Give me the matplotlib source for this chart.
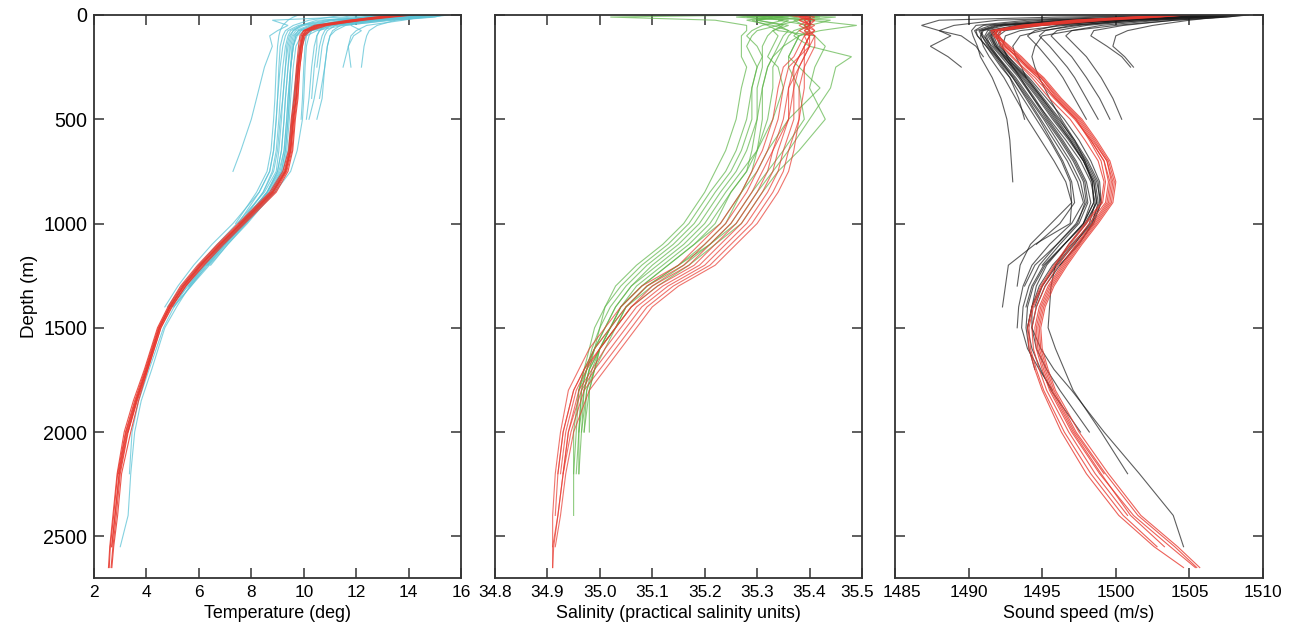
import matplotlib

matplotlib.use("Agg")
import matplotlib.pyplot as plt
import matplotlib.transforms as mtransforms

plt.rcParams["font.family"] = ["Liberation Sans", "DejaVu Sans"]

# ---- temperature panel -------------------------------------------------
temp_depth = [0, 10, 25, 50, 75, 100, 150, 250, 400, 500, 650, 750, 850, 1000,
              1100, 1200, 1300, 1400, 1500, 1700, 1850, 2000, 2200, 2400, 2550, 2650]

temp_red = [
    [14.2, 13.4, 12.3, 10.8, 10.2, 10.0, 9.95, 9.85, 9.75, 9.65, 9.55, 9.35, 8.9, 7.7, 6.9, 6.15, 5.5, 4.95, 4.55, 4.05, 3.65, 3.3, 3.0, 2.85, 2.72, 2.65],
    [13.6, 12.8, 11.7, 10.4, 10.0, 9.9, 9.85, 9.75, 9.65, 9.55, 9.45, 9.25, 8.75, 7.55, 6.75, 6.0, 5.35, 4.85, 4.45, 3.95, 3.55, 3.2, 2.9, 2.75, 2.62, 2.58],
    [14.0, 13.1, 12.1, 10.7, 10.15, 10.0, 9.9, 9.8, 9.7, 9.62, 9.5, 9.32, 8.85, 7.65, 6.85, 6.1, 5.45, 4.9, 4.5, 4.0, 3.62, 3.28, 2.97, 2.8, 2.68],
    [13.8, 12.9, 11.9, 10.5, 10.05, 9.95, 9.9, 9.8, 9.72, 9.6, 9.5, 9.3, 8.8, 7.6, 6.8, 6.05, 5.4, 4.88, 4.48, 3.98, 3.58, 3.22, 2.93],
    [14.1, 13.2, 12.2, 10.9, 10.25, 10.05, 9.95, 9.85, 9.78, 9.68, 9.58, 9.4, 8.95, 7.75, 6.95, 6.2, 5.5, 4.98, 4.55, 4.05, 3.7, 3.4, 3.05, 2.9, 2.75, 2.68],
    [13.7, 12.7, 11.8, 10.5, 10.0, 9.85, 9.8, 9.72, 9.62, 9.52, 9.42, 9.2, 8.7, 7.5, 6.7, 5.95, 5.3, 4.82, 4.42, 3.92, 3.5, 3.15, 2.88, 2.72, 2.6, 2.55],
    [13.9, 13.0, 12.0, 10.6, 10.1, 9.95, 9.88, 9.78, 9.7, 9.58, 9.48, 9.28, 8.8, 7.6, 6.8, 6.05, 5.4, 4.9, 4.5, 4.0, 3.6, 3.25, 2.95, 2.8, 2.67],
    [14.0, 13.1, 12.1, 10.6, 10.1, 9.95, 9.9, 9.8, 9.7, 9.6, 9.5, 9.3, 8.82, 7.62, 6.82, 6.08, 5.42, 4.9, 4.5, 4.02, 3.62, 3.3],
]

temp_cyan = [
    [15.3, 15.0, 13.5, 12.8, 12.5, 12.4, 12.3, 12.2],
    [14.8, 14.5, 13.8, 12.4, 12.0, 11.8, 11.7, 11.5],
    [15.5, 14.9, 13.2, 11.6, 11.2, 11.0, 10.9, 10.8, 10.6],
    [15.0, 14.2, 12.9, 11.4, 11.1, 11.0, 10.9, 10.8, 10.7, 10.5],
    [14.5, 13.8, 12.6, 11.0, 10.6, 10.5, 10.4, 10.3, 10.2, 10.1],
    [13.5, 12.8, 11.5, 10.8, 10.6, 10.5, 10.5, 10.4, 10.3],
    [12.0, 11.5, 8.8, 9.4, 9.0, 8.7, 8.8, 8.5, 8.2, 8.0, 7.6, 7.3],
    [15.2, 14.6, 13.0, 11.2, 10.3, 9.9, 9.7, 9.6, 9.5, 9.45, 9.35, 9.2, 8.75, 7.7, 6.95, 6.3, 5.7, 5.0],
    [14.6, 14.0, 12.4, 10.8, 10.0, 9.75, 9.6, 9.5, 9.4, 9.35, 9.25, 9.1, 8.6, 7.6, 6.85, 6.2, 5.6],
    [13.2, 12.5, 11.2, 10.0, 9.6, 9.45, 9.35, 9.3, 9.2, 9.15, 9.05, 8.95, 8.5, 7.45, 6.7, 6.0, 5.35, 4.8],
    [14.0, 13.4, 12.0, 10.5, 9.9, 9.7, 9.6, 9.5, 9.45, 9.4, 9.3, 9.15, 8.7, 7.75, 7.0, 6.3],
    [12.5, 11.8, 10.8, 9.8, 9.4, 9.3, 9.2, 9.1, 9.0, 8.95, 8.85, 8.7, 8.3, 7.3, 6.5, 5.8, 5.2, 4.7],
    [15.4, 14.7, 13.4, 11.5, 10.5, 10.1, 9.9, 9.75, 9.6, 9.55, 9.45, 9.3, 8.8, 7.75, 7.0],
    [11.5, 11.0, 10.2, 9.6, 9.3, 9.2, 9.1, 9.05, 9.0, 8.95, 8.85, 8.7, 8.3, 7.5],
    [14.3, 13.7, 12.2, 10.4, 9.8, 9.6, 9.5, 9.4, 9.3, 9.25, 9.15, 9.0, 8.6, 7.6, 6.85, 6.1, 5.5, 4.95],
    [13.0, 12.4, 11.0, 9.9, 9.5, 9.4, 9.3, 9.2, 9.1, 9.05, 8.95, 8.8, 8.45, 7.6, 6.9, 6.25, 5.65, 5.15, 4.7, 4.2, 3.8, 3.55, 3.4, 3.3, 3.0],
    [14.1, 13.5, 12.0, 10.3, 9.8, 9.65, 9.55, 9.5, 9.45, 9.4, 9.3, 9.15, 8.65, 7.7, 6.9, 6.2, 5.55, 5.05, 4.65, 4.1, 3.7, 3.45, 3.35],
    [15.0, 14.3, 12.7, 11.0, 10.3, 10.0, 9.85, 9.75, 9.65, 9.55, 9.45, 9.3, 8.85, 7.85, 7.1, 6.4, 5.7, 5.05],
    [13.6, 13.0, 11.6, 10.2, 9.7, 9.55, 9.45, 9.4, 9.3, 9.25, 9.15, 9.0, 8.6, 7.7, 7.0, 6.35, 5.65],
    [12.8, 12.3, 11.5, 11.0, 10.8, 10.7, 10.6, 10.5],
    [9.8, 9.6, 9.4, 9.2, 9.1, 9.05, 9.0, 8.95, 8.9, 8.85, 8.75, 8.6, 8.2, 7.4],
    [14.9, 14.2, 12.0, 11.8, 12.2, 11.9, 11.7, 11.8],
    [14.4, 13.9, 12.8, 10.9, 10.2, 10.0, 9.85, 9.75, 9.65, 9.55, 9.4, 9.2, 8.75, 7.8, 7.1, 6.45],
    [13.0, 12.2, 11.0, 10.4, 10.2, 10.1, 10.05, 10.0, 9.95, 9.9],
    [15.1, 14.0, 12.5, 10.6, 9.9, 9.7, 9.6, 9.5, 9.4, 9.35, 9.25, 9.05, 8.6, 7.65, 6.95, 6.25, 5.6, 4.9],
    [14.7, 13.6, 10.5, 9.9, 9.6, 9.5, 9.4, 9.3, 9.2, 9.1, 9.0, 8.85, 8.45, 7.55],
    [13.3, 12.6, 11.4, 10.6, 10.3, 10.2, 10.1, 10.05, 10.0, 9.95, 9.75, 9.5, 8.9, 7.8, 7.05, 6.35],
    [14.2, 13.3, 12.2, 11.2, 10.9, 10.8, 10.7, 10.6, 10.4, 10.2],
]

# ---- salinity panel ----------------------------------------------------
sal_depth = [0, 10, 25, 50, 75, 100, 150, 200, 250, 350, 500, 650, 750, 850, 1000,
             1100, 1200, 1300, 1400, 1500, 1600, 1700, 1800, 2000, 2200, 2400, 2550, 2650]

sal_red = [
    [35.37, 35.39, 35.38, 35.41, 35.39, 35.41, 35.40, 35.39, 35.39, 35.38, 35.38, 35.36, 35.35, 35.33, 35.29, 35.25, 35.21, 35.14, 35.09, 35.06, 35.03, 35.00, 34.97, 34.945, 34.93, 34.92, 34.91, 34.91],
    [35.39, 35.38, 35.40, 35.39, 35.41, 35.39, 35.40, 35.38, 35.37, 35.36, 35.35, 35.33, 35.32, 35.30, 35.26, 35.22, 35.18, 35.11, 35.06, 35.03, 35.00, 34.975, 34.955, 34.935, 34.925],
    [35.38, 35.40, 35.39, 35.40, 35.38, 35.40, 35.39, 35.38, 35.36, 35.35, 35.34, 35.32, 35.30, 35.28, 35.24, 35.20, 35.16, 35.09, 35.05, 35.02, 34.99, 34.97, 34.95, 34.93, 34.92],
    [35.36, 35.38, 35.41, 35.39, 35.40, 35.41, 35.41, 35.40, 35.39, 35.39, 35.38, 35.37, 35.36, 35.34, 35.30, 35.26, 35.22, 35.15, 35.10, 35.07, 35.04, 35.01, 34.98, 34.95, 34.935, 34.925, 34.915],
    [35.39, 35.41, 35.39, 35.40, 35.40, 35.39, 35.38, 35.37, 35.35, 35.34, 35.33, 35.31, 35.29, 35.27, 35.23, 35.19, 35.15, 35.08, 35.04, 35.01, 34.98, 34.96, 34.94, 34.925, 34.915, 34.91, 34.91],
    [35.40, 35.39, 35.41, 35.40, 35.39, 35.40, 35.40, 35.39, 35.38, 35.37, 35.37, 35.35, 35.34, 35.32, 35.28, 35.24, 35.20, 35.13, 35.08, 35.05, 35.02, 34.99, 34.965, 34.94, 34.93, 34.92, 34.912, 34.91],
    [35.37, 35.40, 35.38, 35.40, 35.41, 35.40, 35.39, 35.39, 35.38, 35.36, 35.36, 35.34, 35.33, 35.31, 35.27, 35.23, 35.19, 35.12, 35.07, 35.04, 35.01, 34.985, 34.96, 34.94, 34.93],
    [35.38, 35.39, 35.40, 35.38, 35.40, 35.40, 35.39, 35.38, 35.37, 35.37, 35.36, 35.33, 35.31, 35.29, 35.25, 35.21, 35.17, 35.10, 35.06, 35.03, 35.00, 34.97, 34.95, 34.93, 34.92, 34.915],
]

sal_green = [
    [35.30, 35.02, 35.22, 35.28, 35.28, 35.27, 35.27, 35.27, 35.28, 35.27, 35.26, 35.24, 35.22, 35.20, 35.16, 35.12, 35.07, 35.03, 35.01, 34.99, 34.98, 34.97, 34.96, 34.955, 34.95, 34.95],
    [35.32, 35.26, 35.36, 35.34, 35.30, 35.29, 35.28, 35.29, 35.30, 35.29, 35.28, 35.26, 35.24, 35.21, 35.17, 35.13, 35.08, 35.04, 35.01, 35.00, 34.985, 34.975, 34.965, 34.96, 34.96],
    [35.28, 35.35, 35.30, 35.36, 35.33, 35.32, 35.31, 35.31, 35.31, 35.30, 35.30, 35.28, 35.26, 35.23, 35.19, 35.15, 35.10, 35.06, 35.03, 35.01, 34.99, 34.98, 34.97, 34.965],
    [35.35, 35.30, 35.40, 35.49, 35.42, 35.38, 35.35, 35.34, 35.33, 35.33, 35.32, 35.30, 35.28, 35.25, 35.21, 35.17, 35.12, 35.07, 35.04, 35.02, 35.00, 34.985, 34.975, 34.97],
    [35.33, 35.38, 35.34, 35.40, 35.38, 35.37, 35.40, 35.48, 35.45, 35.44, 35.40, 35.36, 35.33, 35.30, 35.26, 35.21, 35.16, 35.10, 35.05, 35.03, 35.00, 34.98, 34.97, 34.96],
    [35.25, 35.32, 35.28, 35.33, 35.36, 35.38, 35.37, 35.36, 35.38, 35.42, 35.36, 35.32, 35.30, 35.27, 35.23, 35.18, 35.13, 35.08, 35.04, 35.02, 35.00, 34.98, 34.97],
    [35.30, 35.45, 35.38, 35.34, 35.36, 35.35, 35.34, 35.33, 35.32, 35.31, 35.31, 35.30, 35.29, 35.27, 35.24, 35.20, 35.15, 35.09, 35.05, 35.03, 35.00, 34.99, 34.98, 34.98],
    [35.34, 35.28, 35.35, 35.31, 35.29, 35.28, 35.30, 35.31, 35.30, 35.29, 35.29, 35.27, 35.25, 35.22, 35.18, 35.14, 35.09, 35.05, 35.02, 35.00, 34.99, 34.975, 34.965, 34.96, 34.955],
    [35.36, 35.42, 35.37, 35.39, 35.40, 35.38, 35.37, 35.36, 35.36, 35.38, 35.39, 35.35, 35.32, 35.29, 35.25, 35.21, 35.15, 35.09, 35.05, 35.02, 34.99, 34.975, 34.96, 34.95, 34.95],
    [35.29, 35.33, 35.30, 35.35, 35.33, 35.34, 35.33, 35.32, 35.34, 35.35, 35.33, 35.30, 35.27, 35.24, 35.20, 35.16, 35.11, 35.06, 35.03, 35.01, 34.99, 34.97, 34.96],
    [35.38, 35.32, 35.44, 35.40, 35.37, 35.36, 35.35, 35.33, 35.32, 35.31, 35.30, 35.29, 35.28, 35.25, 35.22, 35.18, 35.13, 35.08, 35.04, 35.02, 35.00, 34.99, 34.98, 34.97],
    [35.31, 35.36, 35.29, 35.32, 35.34, 35.41, 35.43, 35.42, 35.41, 35.40, 35.43, 35.38, 35.34, 35.31, 35.27, 35.22, 35.17, 35.11, 35.06, 35.03, 35.01, 34.99, 34.975, 34.965, 34.96],
]

# ---- sound speed panel -------------------------------------------------
ss_depth = [0, 10, 25, 50, 75, 100, 150, 200, 250, 300, 400, 500, 600, 700, 800, 900,
            1000, 1100, 1200, 1300, 1400, 1500, 1600, 1700, 1800, 2000, 2200, 2400, 2550, 2650]

ss_red = [
    [1504.8, 1503.0, 1499.5, 1495.0, 1492.0, 1491.8, 1492.3, 1493.0, 1493.7, 1494.5, 1495.8, 1497.2, 1498.3, 1499.2, 1499.6, 1499.4, 1498.4, 1497.3, 1496.3, 1495.4, 1494.8, 1494.5, 1494.6, 1495.0, 1495.5, 1497.0, 1498.9, 1501.2, 1503.7, 1505.4],
    [1504.2, 1501.5, 1497.5, 1493.8, 1491.6, 1492.0, 1492.8, 1493.6, 1494.3, 1495.1, 1496.3, 1497.7, 1498.7, 1499.6, 1500.0, 1499.8, 1498.8, 1497.7, 1496.7, 1495.8, 1495.2, 1494.9, 1495.0, 1495.4, 1495.9, 1497.5, 1499.5, 1501.7, 1504.2, 1505.7],
    [1505.0, 1502.5, 1498.5, 1494.5, 1492.2, 1492.1, 1492.5, 1493.2, 1493.9, 1494.7, 1495.9, 1497.3, 1498.2, 1499.0, 1499.3, 1499.1, 1498.0, 1496.9, 1495.9, 1495.0, 1494.4, 1494.1, 1494.2, 1494.6, 1495.1, 1496.5, 1498.3, 1500.5, 1502.8],
    [1503.8, 1501.0, 1497.0, 1493.5, 1491.5, 1491.7, 1492.4, 1493.3, 1494.1, 1494.9, 1496.1, 1497.5, 1498.5, 1499.4, 1499.8, 1499.6, 1498.6, 1497.5, 1496.5, 1495.6, 1495.0, 1494.7, 1494.8, 1495.2, 1495.7, 1497.2, 1499.2],
    [1504.5, 1502.2, 1498.2, 1494.2, 1491.9, 1491.9, 1492.6, 1493.5, 1494.2, 1495.0, 1496.2, 1497.6, 1498.6, 1499.5, 1499.9, 1499.7, 1498.7, 1497.6, 1496.6, 1495.7, 1495.1, 1494.8, 1494.9, 1495.3, 1495.8, 1497.3, 1499.3, 1501.5, 1504.0, 1505.5],
    [1504.0, 1501.8, 1498.0, 1494.0, 1491.7, 1491.8, 1492.2, 1492.9, 1493.6, 1494.3, 1495.5, 1496.9, 1497.9, 1498.8, 1499.2, 1499.0, 1497.9, 1496.8, 1495.8, 1494.9, 1494.3, 1494.0, 1494.1, 1494.5, 1495.0, 1496.3, 1498.0, 1500.2, 1502.6, 1504.6],
    [1504.6, 1502.8, 1499.0, 1494.8, 1492.1, 1492.0, 1492.7, 1493.4, 1494.0, 1494.9, 1496.0, 1497.4, 1498.4, 1499.4, 1499.7, 1499.5, 1498.5, 1497.4, 1496.4, 1495.5, 1494.9, 1494.6, 1494.7, 1495.1, 1495.6, 1497.1, 1499.0, 1501.0, 1503.3],
    [1504.3, 1501.2, 1497.2, 1493.6, 1491.8, 1491.9, 1492.5, 1493.3, 1494.0, 1494.7, 1495.9, 1497.3, 1498.3, 1499.2, 1499.5, 1499.3, 1498.2, 1497.1, 1496.1, 1495.2, 1494.6, 1494.3, 1494.4, 1494.8, 1495.3, 1496.8, 1498.6, 1500.8],
]

ss_black = [
    [1506.0, 1496.0, 1488.0, 1486.8, 1488.0, 1488.8, 1487.4, 1488.6, 1489.5],
    [1508.0, 1506.5, 1503.0, 1499.0, 1497.0, 1496.6, 1497.3, 1498.0, 1498.5, 1499.0, 1499.8, 1500.4],
    [1507.5, 1506.0, 1502.0, 1498.0, 1496.0, 1495.6, 1496.3, 1497.0, 1497.5, 1498.0, 1498.9, 1499.6],
    [1507.0, 1505.0, 1501.0, 1497.0, 1495.2, 1494.8, 1495.5, 1496.1, 1496.7, 1497.2, 1498.0, 1498.8],
    [1506.5, 1504.5, 1500.0, 1496.0, 1494.5, 1494.0, 1494.7, 1495.3, 1495.9, 1496.4, 1497.2, 1498.0],
    [1508.8, 1507.5, 1504.0, 1500.5, 1498.5, 1498.3, 1499.4, 1500.4, 1501.0],
    [1505.5, 1502.0, 1495.0, 1491.0, 1490.4, 1490.6, 1491.2, 1491.8, 1492.3, 1492.8, 1493.4, 1493.8],
    [1505.0, 1501.0, 1494.0, 1490.5, 1490.2, 1490.3, 1490.6, 1490.8, 1491.2, 1491.6, 1492.2, 1492.6, 1492.8, 1492.9, 1493.0],
    [1506.0, 1503.5, 1498.0, 1492.5, 1491.0, 1490.8, 1491.0, 1491.4, 1491.9, 1492.4, 1493.2, 1494.0, 1494.9, 1495.8, 1496.6, 1497.0, 1496.9, 1494.5, 1492.7, 1492.5, 1492.3],
    [1507.0, 1504.0, 1499.0, 1493.5, 1491.5, 1491.2, 1491.5, 1492.0, 1492.5, 1493.0, 1494.0, 1494.9, 1495.8, 1496.7, 1497.4, 1497.8, 1497.0, 1495.5, 1494.3, 1493.7, 1493.4, 1493.3],
    [1508.0, 1505.5, 1500.5, 1494.5, 1492.0, 1491.6, 1491.9, 1492.4, 1492.9, 1493.5, 1494.5, 1495.4, 1496.4, 1497.3, 1498.0, 1498.3, 1497.8, 1496.5, 1495.2, 1494.4, 1494.0, 1493.9, 1494.1, 1494.5],
    [1506.5, 1503.0, 1497.0, 1492.0, 1490.8, 1491.0, 1491.6, 1492.2, 1492.8, 1493.4, 1494.4, 1495.5, 1496.6, 1497.6, 1498.3, 1498.6, 1498.2, 1497.2, 1496.0, 1495.0, 1494.3, 1494.0, 1494.3, 1494.9, 1495.6, 1497.6],
    [1505.0, 1502.0, 1496.0, 1491.5, 1490.5, 1490.6, 1491.2, 1491.7, 1492.2, 1492.8, 1493.7, 1494.6, 1495.5, 1496.3, 1496.9, 1497.0, 1495.6, 1494.2, 1493.5, 1493.3],
    [1507.5, 1505.0, 1500.0, 1494.0, 1491.8, 1491.5, 1491.8, 1492.5, 1493.2, 1493.9, 1495.0, 1496.0, 1497.0, 1497.9, 1498.6, 1498.8, 1498.4, 1497.5, 1496.2],
    [1508.5, 1506.0, 1501.0, 1495.0, 1492.5, 1492.0, 1492.2, 1492.7, 1493.3, 1494.0, 1495.1, 1496.2, 1497.1, 1498.0, 1498.7, 1499.0, 1498.4, 1497.1, 1495.9, 1495.0, 1494.5],
    [1506.0, 1502.5, 1496.5, 1491.8, 1490.7, 1490.9, 1491.4, 1492.0, 1492.6, 1493.2, 1494.2, 1495.2, 1496.2, 1497.1, 1497.8, 1498.0, 1497.3, 1496.0, 1494.8, 1494.1, 1493.7, 1493.6, 1494.0, 1494.8, 1495.7],
    [1507.0, 1504.5, 1499.5, 1493.8, 1491.6, 1491.3, 1491.7, 1492.3, 1493.0, 1493.6, 1494.7, 1495.7, 1496.8, 1497.8, 1498.5, 1498.7, 1498.0, 1496.8, 1495.9, 1495.6, 1495.5, 1495.4, 1495.9, 1496.5, 1497.1, 1499.0, 1500.8],
    [1507.3, 1504.8, 1499.8, 1494.0, 1491.8, 1491.5, 1491.9, 1492.5, 1493.1, 1493.8, 1494.9, 1495.9, 1496.9, 1497.8, 1498.4, 1498.5, 1497.8, 1496.5, 1495.3, 1494.6, 1494.3, 1494.3, 1494.9, 1495.8, 1497.0, 1499.2, 1501.6, 1503.9, 1504.6],
    [1505.5, 1502.5, 1497.0, 1492.2, 1490.9, 1490.9, 1491.3, 1491.9, 1492.4, 1493.0, 1493.9, 1494.8, 1495.6, 1496.4, 1497.0, 1497.2, 1496.2, 1494.6],
    [1508.0, 1505.0, 1500.0, 1494.2, 1492.0, 1491.7, 1492.0, 1492.6, 1493.2, 1493.9, 1495.0, 1496.1, 1497.2, 1498.1, 1498.8, 1498.9, 1498.3, 1497.0, 1495.7, 1494.8, 1494.3, 1494.0],
    [1509.0, 1507.5, 1504.0, 1500.0, 1497.0, 1495.0, 1494.5, 1494.3, 1494.5, 1494.8, 1495.5, 1496.3, 1497.2, 1497.9, 1498.4, 1498.5, 1497.8],
    [1506.5, 1503.8, 1498.5, 1493.2, 1491.3, 1491.1, 1491.4, 1491.9, 1492.5, 1493.1, 1494.1, 1495.1, 1496.0, 1496.9, 1497.6, 1497.9, 1497.4, 1496.0, 1494.5, 1493.8],
    [1507.2, 1504.8, 1499.8, 1493.9, 1491.7, 1491.4, 1491.8, 1492.4, 1493.0, 1493.7, 1494.8, 1495.8, 1496.9, 1497.8, 1498.5, 1498.7, 1497.9, 1496.5, 1495.1, 1494.3, 1493.9],
    [1508.0, 1507.0, 1505.0, 1502.5, 1500.8, 1500.0, 1499.8, 1500.6, 1501.2],
    [1506.0, 1504.0, 1501.0, 1497.5, 1495.0, 1493.5, 1493.0, 1493.2, 1493.6, 1493.9],
    [1504.0, 1499.0, 1492.0, 1489.0, 1488.0, 1489.5, 1490.5, 1491.0],
    [1507.8, 1505.2, 1500.2, 1494.4, 1492.2, 1491.9, 1492.1, 1492.7, 1493.4, 1494.1, 1495.3, 1496.5, 1497.5, 1498.3, 1498.9, 1499.0, 1498.5, 1497.4, 1496.2, 1495.2, 1494.6, 1494.3, 1494.6, 1495.3, 1496.2, 1498.2],
    [1508.6, 1506.8, 1502.5, 1496.5, 1493.5, 1492.5, 1492.3, 1492.6, 1493.0, 1493.5, 1494.4, 1495.3, 1496.3, 1497.2, 1497.9, 1498.1, 1497.5, 1496.2, 1495.0],
]

RED = "#e8392f"


def draw_profiles(ax, depth, profiles, color, lw, alpha):
    for vals in profiles:
        ax.plot(vals, depth[:len(vals)], color=color, lw=lw, alpha=alpha, solid_joinstyle="miter")


def style_axis(ax, xlim, xticks, xfmt, xlabel, show_y):
    ax.set_xlim(*xlim)
    ax.set_ylim(2700, 0)
    ax.set_xticks(xticks)
    ax.set_xticklabels([xfmt.format(v) for v in xticks])
    ax.set_yticks([0, 500, 1000, 1500, 2000, 2500])
    ax.tick_params(direction="in", length=7.5, width=1.1, color="#333333",
                   top=True, right=True, pad=5)
    ax.tick_params(axis="x", labelsize=12.4)
    ax.tick_params(axis="y", labelsize=14.2)
    if not show_y:
        ax.tick_params(labelleft=False)
    for sp in ax.spines.values():
        sp.set_linewidth(1.3)
        sp.set_color("#333333")
    ax.set_xlabel(xlabel, fontsize=12.9, labelpad=4)


def nudge(label, dx_px):
    label.set_transform(label.get_transform() +
                        mtransforms.ScaledTranslation(dx_px / 100, 0, fig.dpi_scale_trans))


fig = plt.figure(figsize=(12.9, 6.35), dpi=100)
ax1 = fig.add_axes([0.0729, 0.0898, 0.2845, 0.8866])
ax2 = fig.add_axes([0.3837, 0.0898, 0.2845, 0.8866])
ax3 = fig.add_axes([0.6938, 0.0898, 0.2853, 0.8866])

draw_profiles(ax1, temp_depth, temp_cyan, "#5cc3d6", 0.8, 0.75)
draw_profiles(ax1, temp_depth, temp_red, RED, 0.8, 0.85)
style_axis(ax1, (2, 16), [2, 4, 6, 8, 10, 12, 14, 16], "{:d}", "Temperature (deg)", True)
ax1.set_ylabel("Depth (m)", fontsize=13.5, labelpad=4)

draw_profiles(ax2, sal_depth, sal_green, "#5db548", 0.8, 0.7)
draw_profiles(ax2, sal_depth, sal_red, RED, 0.8, 0.7)
style_axis(ax2, (34.8, 35.5), [34.8, 34.9, 35.0, 35.1, 35.2, 35.3, 35.4, 35.5], "{:.1f}",
           "Salinity (practical salinity units)", False)

draw_profiles(ax3, ss_depth, ss_black, "#1a1a1a", 0.8, 0.7)
draw_profiles(ax3, ss_depth, ss_red, RED, 0.8, 0.8)
style_axis(ax3, (1485, 1510), [1485, 1490, 1495, 1500, 1505, 1510], "{:d}", "Sound speed (m/s)", False)

nudge(ax2.get_xticklabels()[-1], -5)
nudge(ax3.get_xticklabels()[0], 7)

fig.savefig("out.png", dpi=100)
